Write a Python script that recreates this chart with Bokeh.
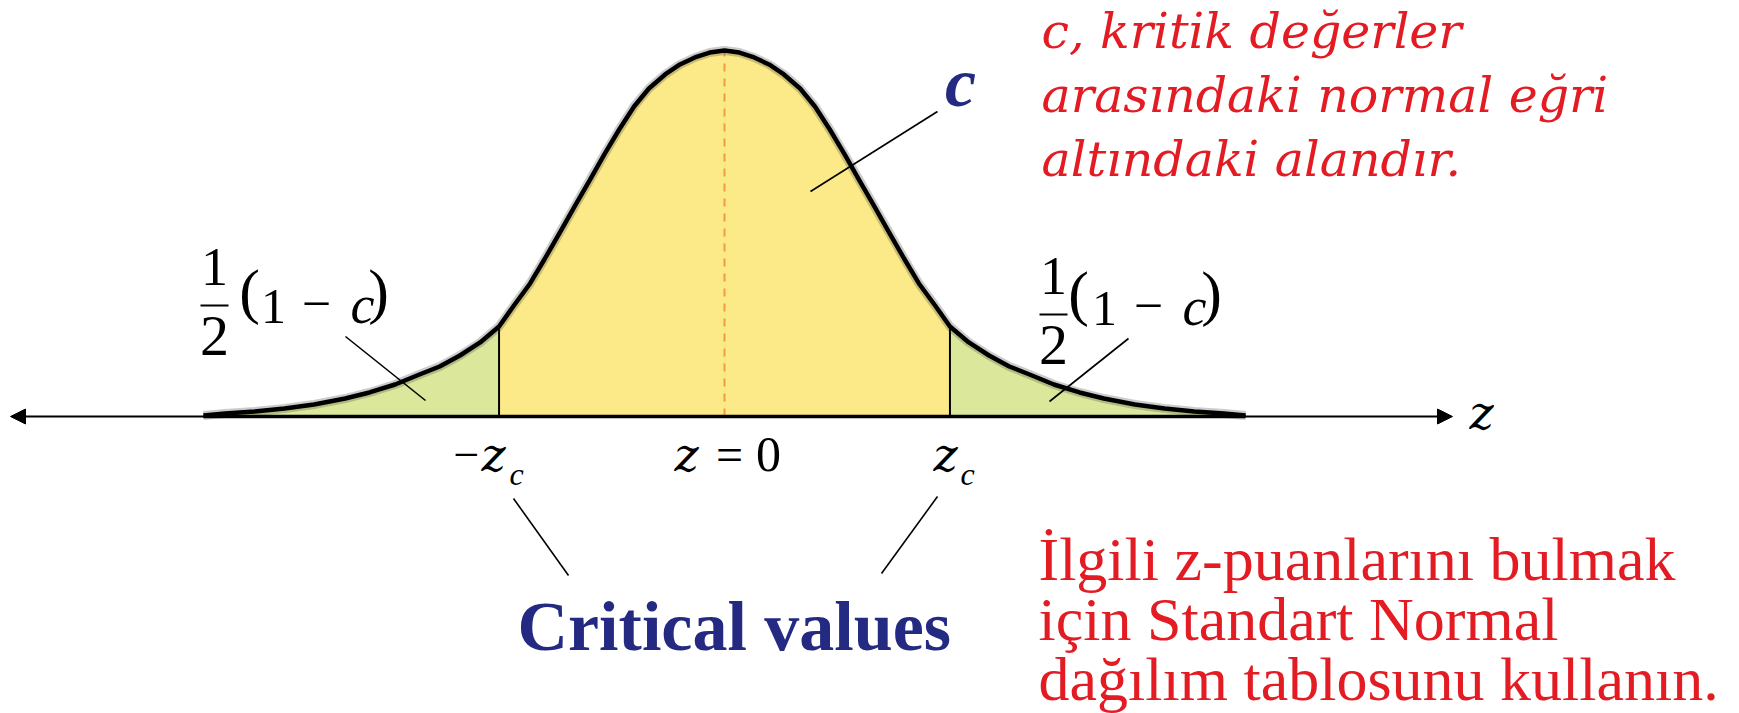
from bokeh.plotting import figure
from bokeh.models import Range1d, Arrow, NormalHead, Label
from bokeh.embed import file_html
from bokeh.resources import INLINE

# ---- data (z in standard units, height as density) ----
z_vals = [-3.86, -3.70, -3.48, -3.26, -3.04, -2.81, -2.63, -2.44, -2.26, -2.11,
          -1.96, -1.81, -1.67, -1.56, -1.44, -1.33, -1.22, -1.11, -1.00, -0.89,
          -0.78, -0.67, -0.56, -0.44, -0.33, -0.22, -0.11, 0.00,
          0.11, 0.22, 0.33, 0.44, 0.56, 0.67, 0.78, 0.89, 1.00, 1.11,
          1.22, 1.33, 1.44, 1.56, 1.67, 1.81, 1.96, 2.11, 2.26, 2.44,
          2.63, 2.81, 3.04, 3.26, 3.48, 3.70, 3.86]
density = [0.0011, 0.0033, 0.0054, 0.0087, 0.0131, 0.0196, 0.0262, 0.0349, 0.0458, 0.0545,
           0.0665, 0.0807, 0.0981, 0.1210, 0.1450, 0.1722, 0.2005, 0.2289, 0.2572, 0.2856,
           0.3128, 0.3379, 0.3575, 0.3728, 0.3837, 0.3913, 0.3967, 0.3989,
           0.3967, 0.3913, 0.3837, 0.3728, 0.3575, 0.3379, 0.3128, 0.2856, 0.2572, 0.2289,
           0.2005, 0.1722, 0.1450, 0.1210, 0.0981, 0.0807, 0.0665, 0.0545, 0.0458, 0.0349,
           0.0262, 0.0196, 0.0131, 0.0087, 0.0054, 0.0033, 0.0011]
z_critical = 1.67

top_text = ["c, kritik değerler", "arasındaki normal eğri", "altındaki alandır."]
bottom_text = ["İlgili z-puanlarını bulmak", "için Standart Normal", "dağılım tablosunu kullanın."]
center_label = "Critical values"

# ---- styles ----
YELLOW = "#FBEA87"
GREEN = "#DBE89C"
RED = "#E31B23"
NAVY = "#242A82"
ORANGE = "#F39A3C"
SERIF = "Liberation Serif"
MATH = "DejaVu Serif"

W, H = 1739, 713
PX_PER_Z = 135.0
PX_PER_D = 917.5
CX, BASE = 724, 416   # reference pixel of z=0 and baseline
BASE_FIX = 0.34       # label anchor correction (fraction of font size)


def X(px):
    return (px - CX) / PX_PER_Z


def Y(py):
    return (BASE - py) / PX_PER_D


p = figure(width=W, height=H, output_backend="svg", toolbar_location=None,
           x_range=Range1d(X(0), X(W)), y_range=Range1d(Y(H), Y(0)),
           x_axis_type=None, y_axis_type=None, min_border=0,
           outline_line_color=None, background_fill_color="white",
           border_fill_color="white")
p.grid.visible = False

# regions
pts = list(zip(z_vals, density))
mid = [(z, d) for z, d in pts if -z_critical - 1e-9 <= z <= z_critical + 1e-9]
left = [(z, d) for z, d in pts if z <= -z_critical + 1e-9]
right = [(z, d) for z, d in pts if z >= z_critical - 1e-9]


def patch_of(seg, color):
    xs = [seg[0][0]] + [a for a, _ in seg] + [seg[-1][0]]
    ys = [0] + [b for _, b in seg] + [0]
    p.patch(xs, ys, fill_color=color, line_color=None)


patch_of(left, GREEN)
patch_of(right, GREEN)
patch_of(mid, YELLOW)

# dashed centre line
peak = max(density)
p.segment(x0=[0], y0=[0], x1=[0], y1=[peak], line_color=ORANGE, line_width=2,
          line_dash="8 7")

# critical value verticals
zc_h = dict(pts)[z_critical]
p.segment(x0=[-z_critical, z_critical], y0=[0, 0], x1=[-z_critical, z_critical],
          y1=[zc_h, zc_h], line_color="black", line_width=2)

# curve outline (soft shadow + line)
p.line(z_vals, density, line_color="#333333", line_width=9, line_alpha=0.25)
p.line(z_vals, density, line_color="black", line_width=4.5)
p.segment(x0=[z_vals[0]], y0=[0], x1=[z_vals[-1]], y1=[0], line_color="black",
          line_width=3.5)

# axis with arrows
p.add_layout(Arrow(start=NormalHead(size=15, fill_color="black", line_color="black"),
                   end=NormalHead(size=15, fill_color="black", line_color="black"),
                   x_start=X(10), y_start=0, x_end=X(1452), y_end=0,
                   line_width=2, line_color="black"))

# leader lines
lead = [((345, 336), (425, 400)), ((1128, 338), (1049, 401)),
        ((937, 111), (810, 191)), ((513, 498), (568, 575)), ((937, 496), (881, 573))]
p.segment(x0=[X(a[0]) for a, b in lead], y0=[Y(a[1]) for a, b in lead],
          x1=[X(b[0]) for a, b in lead], y1=[Y(b[1]) for a, b in lead],
          line_color="black", line_width=1.6)


def lab(txt, px, base_py, size, color="black", style="normal", font=SERIF,
        align="left"):
    py = base_py - BASE_FIX * size
    p.add_layout(Label(x=X(px), y=Y(py), text=txt, text_font=font,
                       text_font_size=f"{size}px", text_font_style=style,
                       text_color=color, text_align=align,
                       text_baseline="alphabetic"))


# top-right text
for i, t in enumerate(top_text):
    lab(t, 1041, 48 + 64 * i, 49, RED, "italic", font="DejaVu Serif")
# bottom-right text
for i, t in enumerate(bottom_text):
    lab(t, 1038, 580 + 60 * i, 62, RED)
# critical values
lab(center_label, 517, 650, 70, NAVY, "bold")
# c label
lab("c", 960, 106, 70, NAVY, "bold italic", align="center")

# tick labels
lab("−", 466, 470, 46, align="center")
lab("z", 493, 470, 46, style="italic", font=MATH, align="center")
lab("c", 516, 484, 32, style="italic", align="center")
lab("z", 686, 470, 46, style="italic", font=MATH, align="center")
lab("=", 729, 470, 48, align="center")
lab("0", 768, 471, 50, align="center")
lab("z", 945, 470, 46, style="italic", font=MATH, align="center")
lab("c", 967, 484, 32, style="italic", align="center")
lab("z", 1481, 428, 46, style="italic", font=MATH, align="center")


# fractions 1/2 (1 - c)
def half_one_minus_c(fx, bar_y, bar_x0, bar_x1, one_base, two_base, paren_x, row_base):
    lab("1", fx, one_base, 54, align="center")
    lab("2", fx, two_base, 58, align="center")
    p.segment(x0=[X(bar_x0)], y0=[Y(bar_y)], x1=[X(bar_x1)], y1=[Y(bar_y)],
              line_color="black", line_width=2)
    (lp, one, minus, cc, rp) = paren_x
    lab("(", lp, row_base - 11, 62, align="center")
    lab("1", one, row_base, 50, align="center")
    lab("−", minus, row_base - 2, 52, align="center")
    lab("c", cc, row_base, 54, style="italic", align="center")
    lab(")", rp, row_base - 11, 62, align="center")


half_one_minus_c(214, 305, 200, 228, 285, 355, (249, 273, 316, 362, 378), 323)
half_one_minus_c(1053, 314, 1039, 1067, 294, 364, (1078, 1104, 1148, 1194, 1211), 325)

open("out.html", "w").write(file_html(p, INLINE))
